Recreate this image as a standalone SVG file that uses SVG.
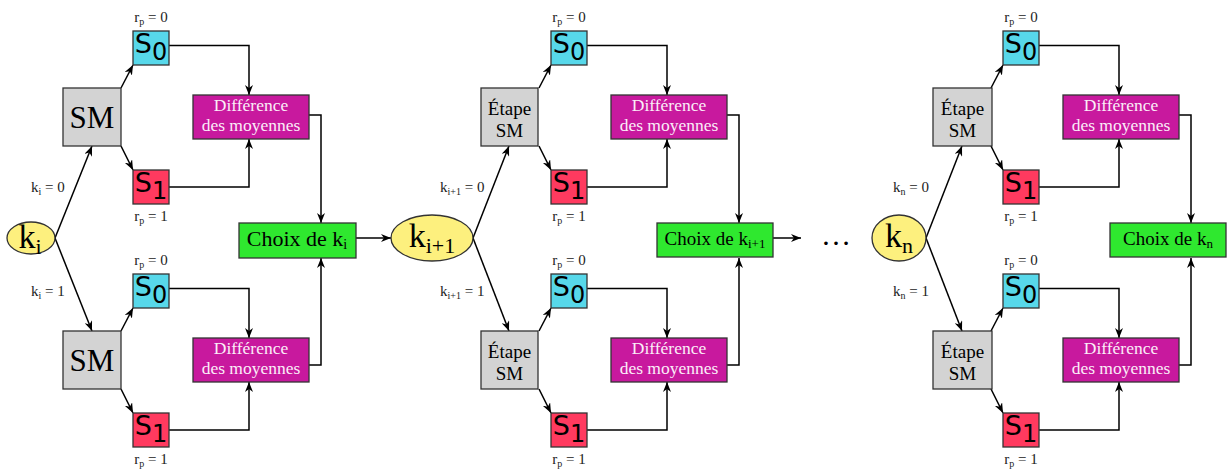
<svg xmlns="http://www.w3.org/2000/svg" width="1229" height="471" viewBox="0 0 1229 471">
<style>
.bx{stroke:#333;stroke-width:1.3}
.sm{fill:#d3d3d3}
.s0{fill:#57d8ea}
.s1{fill:#ff3a5f}
.df{fill:#c8199e}
.ch{fill:#2fe82f}
.el{fill:#fdf07e}
.ln{fill:none;stroke:#000;stroke-width:1.5}
.ar{marker-end:url(#ah)}
.serif{font-family:"Liberation Serif","Times New Roman",serif;fill:#000}
.sans{font-family:"DejaVu Sans","Liberation Sans",sans-serif;fill:#000}
.lbl{font-family:"Liberation Serif","Times New Roman",serif;font-size:15px;fill:#222}
.dtx{font-family:"Liberation Serif","Times New Roman",serif;font-size:17.5px;fill:#fbeef8;text-anchor:middle}
.mid{text-anchor:middle}
</style>
<defs>
<marker id="ah" markerWidth="10" markerHeight="8" viewBox="0 0 10 8" refX="10" refY="4" orient="auto" markerUnits="userSpaceOnUse">
<path d="M0,0 L10,4 L0,8 L3,4 z" fill="#000"/>
</marker>
<g id="half">
<rect class="bx s0" x="133" y="31" width="36" height="34"/>
<text class="sans mid" x="151" y="53" font-size="27">S<tspan font-size="24" dy="7">0</tspan></text>
<rect class="bx s1" x="133" y="170" width="36" height="34"/>
<text class="sans mid" x="151" y="192" font-size="27">S<tspan font-size="24" dy="7">1</tspan></text>
<text class="lbl mid" x="151" y="22">r<tspan font-size="10" dy="3">p</tspan><tspan dy="-3"> = 0</tspan></text>
<text class="lbl mid" x="151" y="221">r<tspan font-size="10" dy="3">p</tspan><tspan dy="-3"> = 1</tspan></text>
<rect class="bx df" x="193" y="95" width="116" height="44"/>
<text class="dtx" x="251" y="111">Différence</text>
<text class="dtx" x="251" y="131">des moyennes</text>
</g>
<g id="halfln">
<path class="ln ar" d="M121,88 L133,65"/>
<path class="ln ar" d="M121,146 L133,170"/>
<path class="ln ar" d="M169,45.5 H249 V95"/>
<path class="ln ar" d="M169,187 H249 V139"/>
</g>
</defs>

<g id="connectors">
<g id="conn-block1">
<path class="ln ar" d="M55,238 L92,146"/>
<path class="ln ar" d="M55,238 L92,331"/>
<use href="#halfln"/>
<use href="#halfln" y="243"/>
<path class="ln ar" d="M309,115 H321 V223"/>
<path class="ln ar" d="M309,365 H321 V258"/>
<path class="ln ar" d="M356,238 H391"/>
</g>
<g id="conn-block2" transform="translate(418,0)">
<path class="ln ar" d="M55,238 L91,146"/>
<path class="ln ar" d="M55,238 L91,331"/>
<use href="#halfln"/>
<use href="#halfln" y="243"/>
<path class="ln ar" d="M309,115 H321 V223"/>
<path class="ln ar" d="M309,365 H321 V258"/>
<path class="ln ar" d="M355,238 H383"/>
</g>
<g id="conn-block3" transform="translate(870,0)">
<path class="ln ar" d="M56,238 L92,146"/>
<path class="ln ar" d="M56,238 L92,331"/>
<use href="#halfln"/>
<use href="#halfln" y="243"/>
<path class="ln ar" d="M309,115 H321 V223"/>
<path class="ln ar" d="M309,365 H321 V258"/>
</g>
</g>

<!-- Block 1 -->
<g id="k-i">
<ellipse class="bx el" cx="31" cy="238" rx="24" ry="16"/>
<text class="serif mid" x="30" y="248" font-size="34">k<tspan font-size="22" dy="6">i</tspan></text>
</g>
<g id="sm-1a">
<rect class="bx sm" x="63" y="88" width="58" height="58"/>
<text class="serif mid" x="92" y="128" font-size="31">SM</text>
</g>
<g id="sm-1b">
<rect class="bx sm" x="63" y="331" width="58" height="58"/>
<text class="serif mid" x="92" y="371" font-size="31">SM</text>
</g>
<g id="half-1a"><use href="#half"/></g>
<g id="half-1b"><use href="#half" y="243"/></g>
<g id="choix-1">
<rect class="bx ch" x="239" y="223" width="117" height="35"/>
<text class="serif mid" x="297" y="246" font-size="22">Choix de k<tspan font-size="14" dy="3">i</tspan></text>
</g>
<g id="labels-1">
<text class="lbl" x="31" y="192">k<tspan font-size="10" dy="3">i</tspan><tspan dy="-3"> = 0</tspan></text>
<text class="lbl" x="31" y="296">k<tspan font-size="10" dy="3">i</tspan><tspan dy="-3"> = 1</tspan></text>
</g>

<!-- Block 2 -->
<g id="block2" transform="translate(418,0)">
<g id="k-i1">
<ellipse class="bx el" cx="14" cy="238" rx="41" ry="23"/>
<text class="serif mid" x="14" y="247" font-size="34">k<tspan font-size="22" dy="6">i+1</tspan></text>
</g>
<g id="sm-2a">
<rect class="bx sm" x="63" y="88" width="57" height="58"/>
<text class="serif mid" x="91.5" y="115" font-size="19">Étape</text>
<text class="serif mid" x="91.5" y="137" font-size="19">SM</text>
</g>
<g id="sm-2b">
<rect class="bx sm" x="63" y="331" width="57" height="58"/>
<text class="serif mid" x="91.5" y="358" font-size="19">Étape</text>
<text class="serif mid" x="91.5" y="380" font-size="19">SM</text>
</g>
<g id="half-2a"><use href="#half"/></g>
<g id="half-2b"><use href="#half" y="243"/></g>
<g id="choix-2">
<rect class="bx ch" x="239" y="223" width="116" height="34"/>
<text class="serif mid" x="297" y="245" font-size="19">Choix de k<tspan font-size="13" dy="3">i+1</tspan></text>
</g>
<g id="labels-2">
<text class="lbl" x="22" y="192">k<tspan font-size="10" dy="3">i+1</tspan><tspan dy="-3"> = 0</tspan></text>
<text class="lbl" x="22" y="296">k<tspan font-size="10" dy="3">i+1</tspan><tspan dy="-3"> = 1</tspan></text>
</g>
</g>

<g id="dots">
<text class="serif" x="821" y="245" font-size="30">…</text>
</g>

<!-- Block 3 -->
<g id="block3" transform="translate(870,0)">
<g id="k-n">
<ellipse class="bx el" cx="29" cy="238" rx="27" ry="23"/>
<text class="serif mid" x="29" y="247" font-size="34">k<tspan font-size="22" dy="6">n</tspan></text>
</g>
<g id="sm-3a">
<rect class="bx sm" x="63" y="88" width="59" height="58"/>
<text class="serif mid" x="92.5" y="115" font-size="19">Étape</text>
<text class="serif mid" x="92.5" y="137" font-size="19">SM</text>
</g>
<g id="sm-3b">
<rect class="bx sm" x="63" y="331" width="59" height="58"/>
<text class="serif mid" x="92.5" y="358" font-size="19">Étape</text>
<text class="serif mid" x="92.5" y="380" font-size="19">SM</text>
</g>
<g id="half-3a"><use href="#half"/></g>
<g id="half-3b"><use href="#half" y="243"/></g>
<g id="choix-3">
<rect class="bx ch" x="240" y="223" width="116" height="34"/>
<text class="serif mid" x="298" y="245" font-size="19">Choix de k<tspan font-size="13" dy="3">n</tspan></text>
</g>
<g id="labels-3">
<text class="lbl" x="23" y="192">k<tspan font-size="10" dy="3">n</tspan><tspan dy="-3"> = 0</tspan></text>
<text class="lbl" x="23" y="296">k<tspan font-size="10" dy="3">n</tspan><tspan dy="-3"> = 1</tspan></text>
</g>
</g>
</svg>
